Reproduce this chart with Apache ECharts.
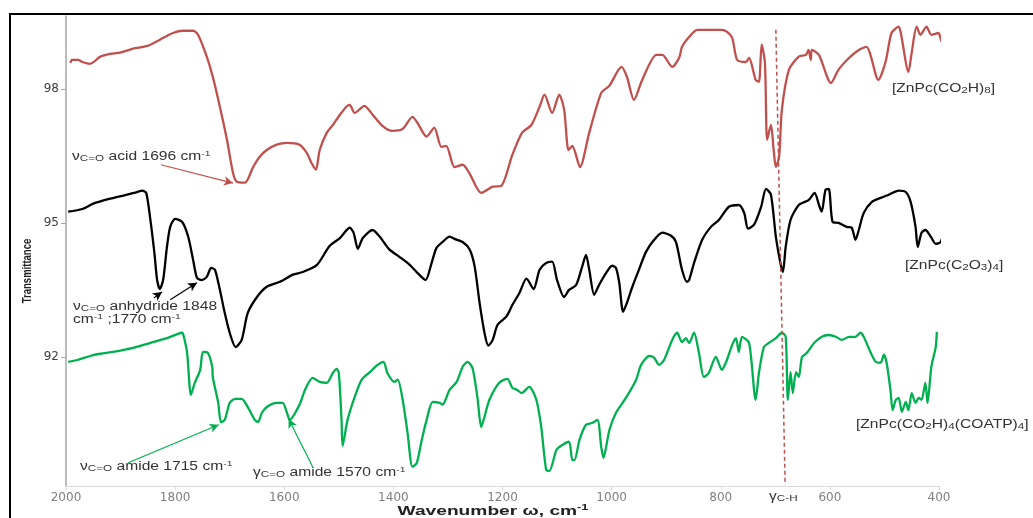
<!DOCTYPE html>
<html>
<head>
<meta charset="utf-8">
<script src="https://cdn.jsdelivr.net/npm/echarts@6/dist/echarts.min.js"></script>
<style>
  html, body { margin: 0; padding: 0; background: #fff; }
  #chart { width: 1033px; height: 518px; }
</style>
</head>
<body>
<div id="chart"></div>
<script>
// FTIR spectra: [wavenumber (cm-1), transmittance]
const acidData = [
  [1992, 98.58], [1989, 98.65], [1978, 98.65], [1970, 98.60], [1956, 98.56], [1937, 98.72],
  [1919, 98.78], [1901, 98.81], [1877, 98.90], [1851, 98.96], [1828, 99.10], [1804, 99.25],
  [1786, 99.30], [1767, 99.30], [1758, 99.21], [1742, 98.72], [1731, 98.27], [1718, 97.60],
  [1705, 96.86], [1694, 96.12], [1687, 95.92], [1672, 95.90], [1657, 96.25], [1645, 96.48],
  [1632, 96.63], [1614, 96.75], [1595, 96.79], [1572, 96.75], [1559, 96.57], [1550, 96.34],
  [1542, 96.19], [1535, 96.63], [1522, 97.02], [1511, 97.19], [1498, 97.42], [1486, 97.60],
  [1480, 97.64], [1471, 97.46], [1453, 97.62], [1438, 97.42], [1420, 97.17], [1403, 97.06],
  [1383, 97.10], [1365, 97.37], [1356, 97.24], [1339, 96.93], [1325, 97.13], [1312, 96.70],
  [1303, 96.72], [1288, 96.25], [1273, 96.30], [1261, 96.12], [1239, 95.67], [1218, 95.81],
  [1202, 95.83], [1182, 96.52], [1164, 97.02], [1147, 97.19], [1132, 97.60], [1123, 97.87],
  [1109, 97.46], [1096, 97.87], [1087, 97.53], [1079, 96.63], [1072, 96.72], [1058, 96.25],
  [1041, 97.02], [1019, 97.91], [1004, 98.07], [982, 98.49], [972, 98.27], [959, 97.75],
  [944, 98.20], [918, 98.76], [907, 98.76], [889, 98.49], [876, 98.70], [871, 98.94],
  [858, 99.16], [843, 99.32], [798, 99.32], [789, 99.28], [779, 99.14], [770, 98.65],
  [754, 98.60], [748, 98.69], [736, 98.20], [730, 98.16], [725, 98.99], [719, 98.58],
  [715, 96.86], [708, 97.19], [703, 96.63], [699, 96.25], [693, 96.48], [688, 97.53],
  [675, 98.43], [657, 98.72], [644, 98.76], [639, 98.87], [635, 98.65], [633, 98.87],
  [620, 98.76], [598, 98.13], [584, 98.43], [565, 98.69], [547, 98.87], [533, 98.94],
  [511, 98.20], [498, 98.60], [487, 99.25], [474, 99.39], [470, 99.25], [456, 98.38],
  [450, 98.81], [441, 99.39], [434, 99.21], [423, 99.39], [414, 99.21], [401, 99.25],
  [395, 99.05], [388, 99.37], [383, 99.16], [377, 99.43], [368, 99.46]
];

const anhydrideData = [
  [1996, 95.25], [1970, 95.31], [1950, 95.43], [1919, 95.54], [1888, 95.63], [1870, 95.69],
  [1860, 95.72], [1853, 95.67], [1846, 95.13], [1838, 94.33], [1833, 93.72], [1828, 93.52],
  [1822, 93.72], [1815, 94.46], [1809, 94.91], [1800, 95.09], [1787, 95.02], [1776, 94.69],
  [1767, 94.17], [1760, 93.77], [1751, 93.72], [1742, 93.79], [1734, 93.99], [1727, 93.95],
  [1718, 93.50], [1709, 92.98], [1700, 92.54], [1689, 92.22], [1678, 92.38], [1667, 92.98],
  [1650, 93.34], [1632, 93.57], [1608, 93.68], [1584, 93.84], [1566, 93.90], [1540, 94.06],
  [1517, 94.48], [1498, 94.66], [1480, 94.89], [1473, 94.78], [1465, 94.42], [1456, 94.66],
  [1438, 94.84], [1425, 94.69], [1407, 94.40], [1389, 94.24], [1370, 94.06], [1356, 93.88],
  [1341, 93.72], [1330, 94.10], [1321, 94.44], [1310, 94.57], [1297, 94.69], [1288, 94.64],
  [1273, 94.57], [1260, 94.40], [1251, 94.02], [1242, 93.21], [1233, 92.54], [1226, 92.25],
  [1218, 92.38], [1209, 92.72], [1193, 92.90], [1182, 93.16], [1169, 93.43], [1156, 93.75],
  [1143, 93.52], [1132, 93.95], [1120, 94.10], [1109, 94.13], [1100, 93.72], [1087, 93.34],
  [1078, 93.50], [1065, 93.61], [1054, 94.02], [1047, 94.28], [1041, 93.95], [1032, 93.39],
  [1023, 93.61], [1010, 93.88], [999, 94.04], [992, 93.99], [986, 93.66], [979, 93.01],
  [972, 93.21], [962, 93.57], [950, 93.95], [937, 94.35], [922, 94.62], [907, 94.78],
  [891, 94.71], [882, 94.57], [871, 93.95], [862, 93.68], [858, 93.72], [849, 94.10],
  [834, 94.62], [818, 94.91], [803, 95.07], [785, 95.36], [767, 95.40], [757, 95.22],
  [750, 94.87], [739, 94.96], [726, 95.36], [717, 95.76], [708, 95.63], [699, 94.69],
  [690, 94.06], [686, 93.90], [681, 94.46], [672, 95.07], [657, 95.40], [639, 95.51],
  [628, 95.67], [620, 95.40], [615, 95.25], [608, 95.74], [602, 95.76], [595, 95.02],
  [584, 95.00], [569, 94.91], [560, 94.89], [553, 94.62], [547, 94.84], [538, 95.22],
  [523, 95.47], [507, 95.56], [492, 95.63], [474, 95.72], [461, 95.69], [452, 95.47],
  [443, 94.91], [439, 94.46], [432, 94.78], [425, 94.84], [415, 94.69], [406, 94.53],
  [397, 94.57], [388, 94.91], [377, 95.13], [364, 95.29], [359, 95.52], [353, 95.72]
];

const amideData = [
  [1996, 91.89], [1979, 91.93], [1956, 92.02], [1937, 92.07], [1914, 92.11], [1877, 92.20],
  [1846, 92.31], [1815, 92.42], [1796, 92.51], [1787, 92.54], [1784, 92.45], [1778, 92.09],
  [1771, 91.15], [1764, 91.42], [1754, 91.71], [1749, 92.11], [1740, 92.09], [1732, 91.78],
  [1731, 91.55], [1721, 90.97], [1716, 90.54], [1709, 90.59], [1700, 90.97], [1690, 91.06],
  [1678, 91.06], [1667, 90.88], [1654, 90.59], [1648, 90.54], [1641, 90.75], [1632, 90.88],
  [1614, 90.97], [1603, 90.97], [1595, 90.75], [1590, 90.59], [1572, 90.93], [1562, 91.26],
  [1548, 91.53], [1535, 91.44], [1522, 91.42], [1511, 91.64], [1504, 91.73], [1500, 91.64],
  [1495, 90.59], [1493, 90.01], [1484, 90.59], [1471, 91.10], [1458, 91.49], [1443, 91.66],
  [1429, 91.82], [1418, 91.89], [1411, 91.64], [1398, 91.44], [1392, 91.49], [1383, 91.04],
  [1374, 90.30], [1365, 89.54], [1357, 89.63], [1348, 90.14], [1339, 90.59], [1328, 90.99],
  [1315, 90.97], [1310, 90.93], [1297, 91.26], [1284, 91.44], [1273, 91.78], [1264, 91.89],
  [1255, 91.75], [1246, 91.10], [1239, 90.43], [1233, 90.66], [1224, 91.04], [1206, 91.42],
  [1191, 91.51], [1182, 91.31], [1173, 91.26], [1165, 91.19], [1151, 91.33], [1138, 91.04],
  [1129, 90.43], [1120, 89.47], [1114, 89.45], [1101, 89.92], [1090, 90.03], [1078, 90.10],
  [1072, 89.69], [1068, 89.69], [1059, 90.14], [1047, 90.48], [1036, 90.52], [1026, 90.59],
  [1019, 89.98], [1015, 89.74], [1004, 90.37], [992, 90.75], [973, 91.10], [955, 91.49],
  [946, 91.82], [931, 92.02], [922, 91.98], [913, 91.82], [904, 91.93], [889, 92.38],
  [880, 92.54], [871, 92.33], [864, 92.42], [858, 92.31], [849, 92.54], [840, 92.09],
  [831, 91.55], [822, 91.64], [809, 92.00], [798, 91.71], [790, 91.89], [779, 92.27],
  [772, 92.42], [767, 92.11], [761, 92.45], [748, 92.31], [736, 91.04], [730, 91.64],
  [721, 92.22], [712, 92.31], [699, 92.42], [688, 92.54], [681, 92.45], [677, 91.04],
  [672, 91.66], [668, 91.19], [662, 91.66], [657, 91.55], [651, 92.00], [642, 92.09],
  [629, 92.31], [615, 92.45], [602, 92.49], [589, 92.45], [578, 92.38], [565, 92.45],
  [553, 92.45], [544, 92.54], [538, 92.45], [525, 92.09], [516, 91.89], [507, 91.87],
  [501, 92.05], [496, 91.87], [489, 91.26], [485, 90.81], [479, 91.04], [474, 91.08],
  [468, 90.77], [461, 90.99], [456, 90.81], [450, 91.19], [443, 90.97], [437, 91.08],
  [432, 91.04], [425, 91.42], [421, 90.97], [414, 91.78], [406, 92.22], [404, 92.56]
];

// axis ticks
const xTickStep = 200;
const yTickValues = [92, 95, 98];

// vertical C-H bending guide and band-assignment arrows: [from, to]
const chGuide = [[699, 99.32], [682, 89.13]];
const acidArrow = [[1826, 96.30], [1694, 95.89]];
const anhydrideArrows = [
  [[1839, 93.32], [1824, 93.45]],
  [[1809, 93.28], [1760, 93.66]]
];
const amideArrows = [
  [[1886, 89.63], [1720, 90.48]],
  [[1548, 89.54], [1592, 90.61]]
];

const seriesNames = ['[ZnPc(CO2H)8]', '[ZnPc(C2O3)4]', '[ZnPc(CO2H)4(COATP)4]'];
const seriesColors = ['#C0504D', '#000000', '#00B050'];

const FONT = 'Liberation Sans, Arial, sans-serif';
const TICK_FONT = 'DejaVu Sans, sans-serif';
const STRETCH = 1.3;   // text in this figure is set wide

const rich = {
  n: { fontSize: 12, fontFamily: FONT, fill: '#333' },
  s: { fontSize: 9, fontFamily: FONT, verticalAlign: 'bottom', padding: [6, 0, 0, 0], fill: '#333' },
  p: { fontSize: 8, fontFamily: FONT, verticalAlign: 'top', padding: [0, 0, 6, 0], fill: '#333' },
  bp: { fontSize: 9, fontWeight: 'bold', fontFamily: FONT, verticalAlign: 'top', padding: [0, 0, 7, 0], fill: '#222' }
};

function arrowLine(pair) {
  return [{ coord: pair[0] }, { coord: pair[1] }];
}

function textEl(x, y, text, styleExtra) {
  return {
    type: 'text', x: x, y: y, z: 100, scaleX: STRETCH, silent: true,
    style: Object.assign({ text: text, fontSize: 12, fontFamily: FONT, fill: '#333', rich: rich, lineHeight: 13 }, styleExtra || {})
  };
}

const chart = echarts.init(document.getElementById('chart'), null, { renderer: 'canvas' });

const arrowStyle = (color) => ({
  silent: true, symbol: ['none', 'arrow'], symbolSize: [7, 9],
  label: { show: false },
  lineStyle: { color: color, width: 1.2, type: 'solid' },
  emphasis: { disabled: true }, animation: false
});

chart.setOption({
  animation: false,
  backgroundColor: '#fff',
  grid: { left: 66, right: 94, top: 16, bottom: 32, containLabel: false, outerBoundsMode: 'none' },
  xAxis: {
    type: 'value', inverse: true, min: 400, max: 2000, interval: xTickStep,
    axisLine: { lineStyle: { color: '#d9d9d9', width: 1 } },
    axisTick: { show: true, length: 4, lineStyle: { color: '#d9d9d9' } },
    axisLabel: { color: '#7f7f7f', fontFamily: TICK_FONT, fontSize: 12, margin: 6, formatter: v => String(v) },
    splitLine: { show: false }
  },
  yAxis: {
    type: 'value', min: 89.11, max: 99.63,
    axisLine: { show: true, lineStyle: { color: '#a6a6a6', width: 1.5 } },
    axisTick: { show: true, customValues: yTickValues, length: 5, lineStyle: { color: '#a6a6a6' } },
    axisLabel: { customValues: yTickValues, color: '#404040', fontFamily: TICK_FONT, fontSize: 12, margin: 7 },
    splitLine: { show: false }
  },
  series: [
    {
      name: seriesNames[0], type: 'line', data: acidData, clip: false, smooth: 0.25,
      showSymbol: false, lineStyle: { color: seriesColors[0], width: 2.3 },
      markLine: Object.assign(arrowStyle('#C0504D'), { data: [arrowLine(acidArrow)] })
    },
    {
      name: seriesNames[1], type: 'line', data: anhydrideData, clip: false, smooth: 0.25,
      showSymbol: false, lineStyle: { color: seriesColors[1], width: 2.3 },
      markLine: Object.assign(arrowStyle('#000'), { data: anhydrideArrows.map(arrowLine) })
    },
    {
      name: seriesNames[2], type: 'line', data: amideData, clip: false, smooth: 0.25,
      showSymbol: false, lineStyle: { color: seriesColors[2], width: 2.3 },
      markLine: Object.assign(arrowStyle('#00B050'), { data: amideArrows.map(arrowLine) })
    },
    {
      name: 'C-H', type: 'line', data: chGuide, clip: false, showSymbol: false,
      lineStyle: { color: '#C0504D', width: 1.5, type: [4, 3] }, silent: true
    }
  ],
  graphic: [
    { type: 'rect', shape: { x: 10, y: 14, width: 1040, height: 520 }, style: { fill: 'none', stroke: '#000', lineWidth: 2 }, z: 100, silent: true },
    // axis titles
    {
      type: 'text', x: 493, y: 511, z: 100, scaleX: 1.42, silent: true,
      style: { text: 'Wavenumber ω, cm{bp|-1}', fontSize: 13.5, fontWeight: 'bold', fontFamily: FONT, fill: '#222',
               align: 'center', verticalAlign: 'middle', rich: rich }
    },
    {
      type: 'text', x: 28, y: 271, z: 100, rotation: Math.PI / 2, scaleY: STRETCH, silent: true,
      style: { text: 'Transmittance', fontSize: 9.5, fontWeight: 'bold', fontFamily: FONT, fill: '#222',
               align: 'center', verticalAlign: 'middle' }
    },
    // band assignments
    textEl(72, 150, '{n|ν}{s|C=O} acid 1696 cm{p|-1}'),
    textEl(73, 300, '{n|ν}{s|C=O} anhydride 1848\ncm{p|-1} ;1770 cm{p|-1}'),
    textEl(80, 460, '{n|ν}{s|C=O} amide 1715 cm{p|-1}'),
    textEl(253, 466, '{n|γ}{s|C=O} amide 1570 cm{p|-1}'),
    textEl(769, 490, '{n|γ}{s|C-H}'),
    // spectrum names
    textEl(892, 82, '[ZnPc(CO{s|2}H){s|8}]'),
    textEl(905, 259, '[ZnPc(C{s|2}O{s|3}){s|4}]'),
    textEl(856, 418, '[ZnPc(CO{s|2}H){s|4}(COATP){s|4}]')
  ]
});
</script>
</body>
</html>
